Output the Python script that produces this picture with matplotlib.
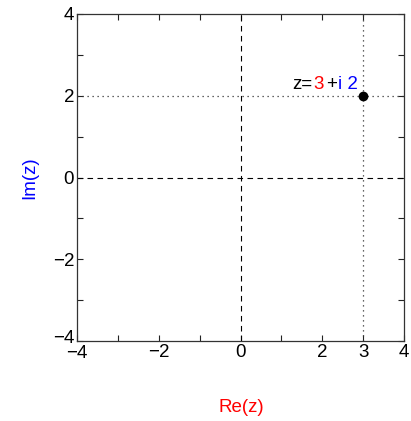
import matplotlib
matplotlib.use("Agg")
import matplotlib.pyplot as plt
import matplotlib.transforms as mtransforms

plt.rcParams['font.family'] = ['Liberation Sans', 'DejaVu Sans']

re_val = 3
im_val = 2
xlim = (-4, 4)
ylim = (-4, 4)
xtick_labels = [-4, -2, 0, 2, 3, 4]
ytick_labels = [-4, -2, 0, 2, 4]
minor_ticks = [-3, -1, 1, 3]

fig = plt.figure(figsize=(4.11, 4.21), dpi=100)
ax = fig.add_axes([77/411, 80/421, 327/411, 327/421])
ax.set_xlim(*xlim)
ax.set_ylim(*ylim)

ax.axvline(0, color='black', lw=0.8, ls=(0, (5, 4)))
ax.axhline(0, color='black', lw=0.8, ls=(0, (5, 4)))
ax.axvline(re_val, color='#333333', lw=0.9, ls=(0, (1, 3)))
ax.axhline(im_val, color='#333333', lw=0.9, ls=(0, (1, 3)))
ax.plot([re_val], [im_val], 'o', color='black', ms=6, zorder=5)

fs = 13.5
gap = 1.2
t1 = ax.annotate('z=', xy=(1.26, im_val), xytext=(0, 4.9), textcoords='offset points',
                 fontsize=fs, color='black', va='baseline', ha='left')
t2 = ax.annotate(str(re_val), xy=(1, 0), xycoords=t1, xytext=(gap, 0),
                 textcoords='offset points', fontsize=fs, color='red',
                 va='bottom', ha='left')
t3 = ax.annotate('+', xy=(1, 0), xycoords=t2, xytext=(gap, 0),
                 textcoords='offset points', fontsize=fs, color='black',
                 va='bottom', ha='left')
t4 = ax.annotate('i ' + str(im_val), xy=(1, 0), xycoords=t3, xytext=(gap, 0),
                 textcoords='offset points', fontsize=fs, color='blue',
                 va='bottom', ha='left')

ax.set_xticks(xtick_labels)
ax.set_xticklabels(['\u2212' + str(-v) if v < 0 else str(v) for v in xtick_labels])
ax.set_yticks(ytick_labels)
ax.set_yticklabels(['\u2212' + str(-v) if v < 0 else str(v) for v in ytick_labels])
ax.set_xticks(minor_ticks, minor=True)
ax.set_yticks([-3, -1, 1, 3], minor=True)
ax.tick_params(which='both', direction='in', top=True, right=True, length=4,
               width=0.8, labelsize=13.5, pad=2, colors='#222222', labelcolor='black')
for s in ax.spines.values():
    s.set_color('#333333')
    s.set_linewidth(0.9)

# nudge the corner labels apart slightly
ylab = ax.get_yticklabels()[0]
ylab.set_transform(ylab.get_transform() + mtransforms.ScaledTranslation(0, 3/72, fig.dpi_scale_trans))
xlab = ax.get_xticklabels()[0]
xlab.set_transform(xlab.get_transform() + mtransforms.ScaledTranslation(0, -1/72, fig.dpi_scale_trans))

fig.text(241/411, 1 - 408/421, 'Re(z)', color='red', fontsize=13.5, ha='center', va='center')
fig.text(30/411, 1 - 178/421, 'Im(z)', color='blue', fontsize=13.5, ha='center', va='center',
         rotation=90)

fig.savefig('out.png', dpi=100)
